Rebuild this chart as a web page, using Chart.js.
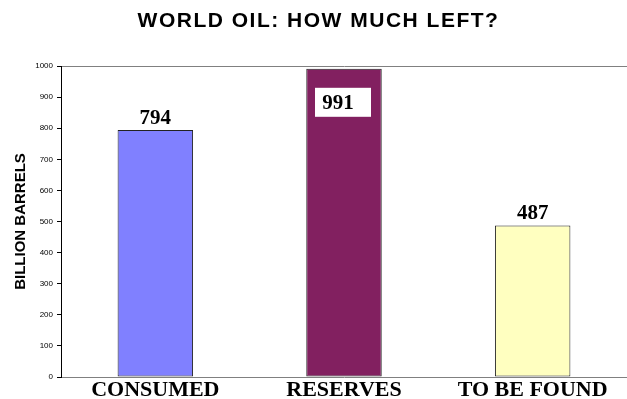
<!DOCTYPE html>
<html>
<head>
<meta charset="utf-8">
<script src="https://cdn.jsdelivr.net/npm/chart.js@4.4.0/dist/chart.umd.min.js"></script>
<style>
  html, body { margin: 0; padding: 0; background: #fff; }
  #wrap { width: 627px; height: 399px; }
</style>
</head>
<body>
<div id="wrap"><canvas id="chart" width="627" height="399"></canvas></div>
<script>
const categories = ['CONSUMED', 'RESERVES', 'TO BE FOUND'];
const billionBarrels = [794, 991, 487];
const yTicks = [0, 100, 200, 300, 400, 500, 600, 700, 800, 900, 1000];
const chartTitle = 'WORLD OIL: HOW MUCH LEFT?';

const barColors = ['#8080ff', '#822060', '#ffffc0'];

// title drawn by hand so it can get the wide letter spacing of the original
const titlePlugin = {
    id: 'titlePlugin',
    afterDraw(chart) {
        const ctx = chart.ctx;
        ctx.save();
        ctx.font = 'bold 21px Arial, "Liberation Sans", sans-serif';
        ctx.letterSpacing = '1.5px';
        ctx.fillStyle = '#000';
        ctx.textAlign = 'center';
        ctx.textBaseline = 'middle';
        ctx.fillText(chartTitle, chart.width / 2 + 5, 21);
        ctx.restore();
    }
};

// value labels above bars; the middle one sits in a white box inside the bar
const valueLabels = {
    id: 'valueLabels',
    afterDatasetsDraw(chart) {
        const ctx = chart.ctx;
        const meta = chart.getDatasetMeta(0);
        ctx.save();
        ctx.font = 'bold 21px "Liberation Serif", "Times New Roman", serif';
        ctx.textAlign = 'center';
        ctx.fillStyle = '#000';
        meta.data.forEach((bar, i) => {
            const text = String(billionBarrels[i]);
            if (i === 1) {
                const boxW = 56, boxH = 29;
                const bx = bar.x - boxW / 2 - 1;
                const by = bar.y + 19;
                ctx.fillStyle = '#fff';
                ctx.fillRect(bx, by, boxW, boxH);
                ctx.fillStyle = '#000';
                ctx.textBaseline = 'middle';
                ctx.fillText(text, bar.x - 6, by + boxH / 2 + 1);
            } else {
                ctx.textBaseline = 'bottom';
                ctx.fillText(text, bar.x, bar.y - 1);
            }
        });
        ctx.restore();
    }
};

new Chart(document.getElementById('chart'), {
    type: 'bar',
    data: {
        labels: categories,
        datasets: [{
            data: billionBarrels,
            backgroundColor: barColors,
            borderColor: '#222',
            borderWidth: 1,
            borderSkipped: false,
            categoryPercentage: 1,
            barPercentage: 0.4
        }]
    },
    options: {
        responsive: false,
        animation: false,
        layout: { padding: { left: 0, right: 0, top: 66, bottom: 0 } },
        plugins: {
            legend: { display: false },
            tooltip: { enabled: false },
            title: { display: false }
        },
        scales: {
            x: {
                grid: { display: false, drawTicks: false, tickLength: 0 },
                border: { color: '#808080', width: 1 },
                ticks: {
                    color: '#000',
                    padding: 0,
                    font: { family: '"Liberation Serif", "Times New Roman", serif', size: 22, weight: 'bold' }
                },
                afterFit(scale) { scale.height = 22; }
            },
            y: {
                min: 0,
                max: 1000,
                afterBuildTicks(scale) { scale.ticks = yTicks.map(v => ({ value: v })); },
                grid: {
                    drawOnChartArea: true,
                    color: ctx => (ctx.tick && ctx.tick.value === 1000 ? '#808080' : 'rgba(0,0,0,0)'),
                    tickColor: '#000',
                    tickLength: 4
                },
                border: { color: '#000', width: 1 },
                ticks: {
                    color: '#000',
                    padding: 4,
                    font: { family: 'Arial, "Liberation Sans", sans-serif', size: 8 },
                    callback: v => String(v)
                },
                title: {
                    display: true,
                    text: 'BILLION BARRELS',
                    color: '#000',
                    padding: { top: 12, bottom: 0 },
                    font: { family: 'Arial, "Liberation Sans", sans-serif', size: 15, weight: 'bold' }
                },
                afterFit(scale) { scale.width = 61; }
            }
        }
    },
    plugins: [valueLabels, titlePlugin]
});
</script>
</body>
</html>
